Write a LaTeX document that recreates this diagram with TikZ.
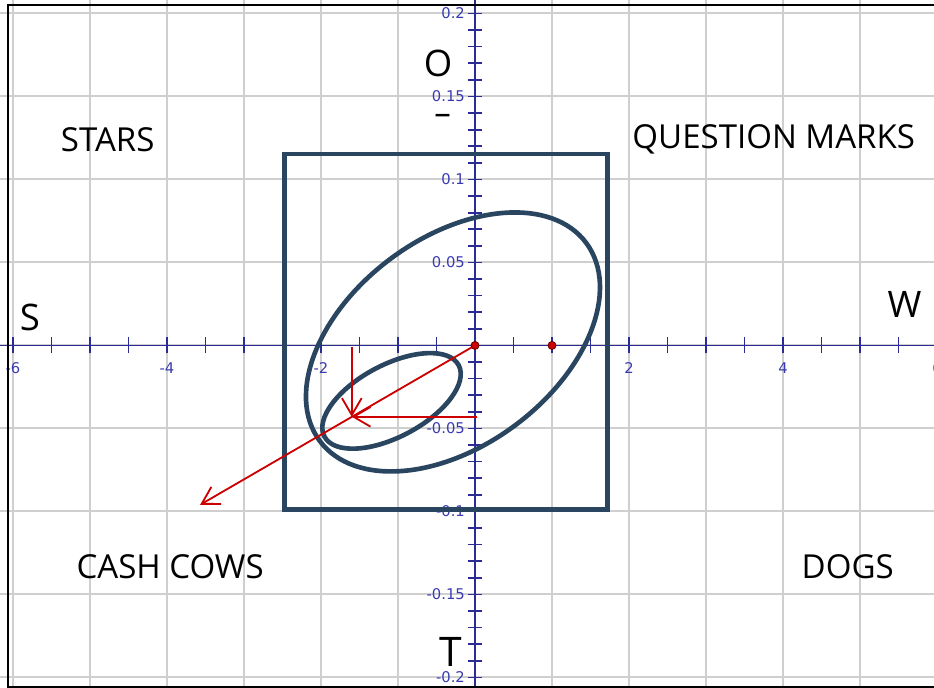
\documentclass[tikz,border=0pt]{standalone}
\usepackage{fontspec}
\setmainfont{Open Sans}
\newfontfamily\tickfont{DejaVu Sans}
\usetikzlibrary{arrows.meta}
\definecolor{navy}{HTML}{2A4560}
\definecolor{axisblue}{HTML}{2B2B96}
\definecolor{ticklbl}{HTML}{3A3AB0}
\definecolor{gridgray}{HTML}{CFCFCF}
\definecolor{vecred}{HTML}{CC0000}

\begin{document}
\begin{tikzpicture}[x=1.925cm, y=41.5cm,
  gridline/.style={gridgray, line width=1.4pt},
  axis/.style={axisblue, line width=1.2pt},
  frameline/.style={navy, line width=3.3pt},
  vec/.style={vecred, line width=1.3pt, -{Straight Barb[length=12pt,width=14pt]}},
  dot/.style={circle, fill=vecred, draw=black!50!vecred, line width=0.6pt, inner sep=0pt, minimum size=0.2cm},
  quad/.style={font=\fontsize{23.5}{27}\selectfont},
  pole/.style={font=\fontsize{26}{30}\selectfont},
  ticklabel/.style={ticklbl, font=\tickfont\fontsize{10.5}{12}\selectfont, inner sep=1pt}
]
\useasboundingbox (-6.169,-0.2063) rectangle (5.961,0.2081);

% grid
\foreach \gx in {-6,...,6}
  \draw[gridline] (\gx,-0.21) -- (\gx,0.21);
\foreach \k in {-4,...,4}
  \draw[gridline] (-6.2,{\k*0.05}) -- (6.1,{\k*0.05});

% axes and ticks
\draw[axis] (-6.2,0) -- (6.1,0);
\draw[axis] (0,-0.21) -- (0,0.21);
\foreach \k in {-12,...,12}
  \draw[axis] ({\k/2},0) +(0,-0.2cm) -- +(0,0.2cm);
\foreach \k in {-21,...,21}
  \draw[axis] (0,{\k/100}) +(-0.175cm,0) -- +(0.175cm,0);
\foreach \v in {-6,-4,-2,2,4,6}
  \node[ticklabel] at (\v,-0.0136) {\v};
\foreach \v in {0.2,0.15,0.1,0.05,-0.05,-0.1,-0.15,-0.2}
  \node[ticklabel, anchor=east] at (-0.11,\v) {\v};

% outer border
\draw[black, line width=2pt] (6.2,0.2051) -| (-6.065,-0.2057) -- (6.2,-0.2057);

% box and ellipses
\draw[frameline] (-2.47,-0.0988) rectangle (1.72,0.1154);
\draw[frameline] (-0.286,0.0021) circle [x radius=4.15cm, y radius=2.6cm, rotate=36.6];
\draw[frameline] (-1.084,-0.0334) circle [x radius=1.9cm, y radius=0.9cm, rotate=28];

% vectors
\coordinate (hit) at (-1.6,-0.043);
\coordinate (far) at (-3.57,-0.096);
\coordinate (hittop) at (-1.6,-0.001);
\coordinate (hitright) at (0.03,-0.043);
\draw[vec] (0,0) -- (far);
\draw[vec] (hittop) -- (hit);
\draw[vec] (hitright) -- (hit);
\node[dot] (origin) at (0,0) {};
\node[dot] (unit) at (1,0) {};

% labels
\node[quad] (stars) at (-4.77,0.124) {STARS};
\node[quad] (qmarks) at (3.88,0.124) {QUESTION MARKS};
\node[quad] (cows) at (-3.96,-0.1334) {CASH COWS};
\node[quad] (dogs) at (4.84,-0.1334) {DOGS};
\node[pole] (lblO) at (-0.48,0.170) {O};
\node[quad] (dash) at (-0.42,0.136) {–};
\node[pole] (lblS) at (-5.78,0.0166) {S};
\node[pole] (lblW) at (5.58,0.0244) {W};
\node[pole, font=\fontsize{29}{32}\selectfont] (lblT) at (-0.31,-0.1846) {T};
\end{tikzpicture}
\end{document}
